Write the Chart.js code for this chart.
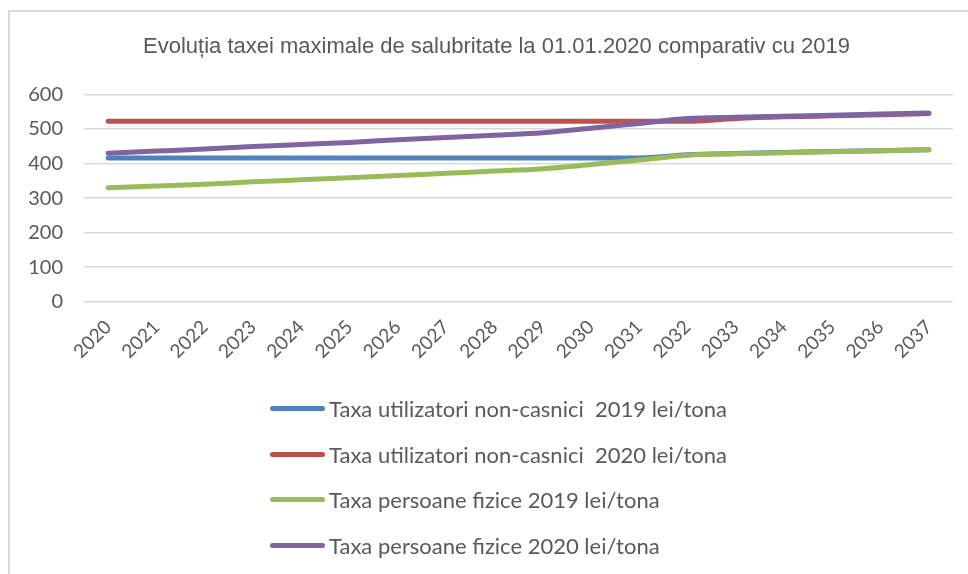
<!DOCTYPE html>
<html>
<head>
<meta charset="utf-8">
<script src="https://cdn.jsdelivr.net/npm/chart.js@4"></script>
<style>
  html, body { margin: 0; padding: 0; background: #fff; }
  #wrap { position: relative; width: 968px; height: 574px; overflow: hidden; }
  #frame { position: absolute; left: 8px; top: 10px; width: 1000px; height: 600px;
           border-left: 2px solid #d9d9d9; border-top: 2px solid #d9d9d9; }
  #chart { position: absolute; left: 0; top: 0; }
  #legend { position: absolute; left: 270px; top: 386px; font-family: Lato, "Open Sans", sans-serif;
            font-size: 22px; color: #595959; }
  .row { height: 45.5px; display: flex; align-items: center; white-space: pre; }
  .swatch { width: 55px; height: 5px; border-radius: 3px; margin-right: 4px; }
</style>
</head>
<body>
<div id="wrap">
  <div id="frame"></div>
  <canvas id="chart" width="968" height="574"></canvas>
  <div id="legend"></div>
</div>
<script>
const years = ['2020','2021','2022','2023','2024','2025','2026','2027','2028','2029','2030','2031','2032','2033','2034','2035','2036','2037'];
const nonCasnici2019 = [416,416,416,416,416,416,416,416,416,416,416,416,425,429,432,435,437,440];
const nonCasnici2020 = [522,522,522,522,522,522,522,522,522,522,522,522,522,530,535,538,541,545];
const fizice2019 = [330,335,340,347,353,359,365,372,378,385,397,410,424,428,431,434,437,440];
const fizice2020 = [430,436,442,449,455,461,469,475,482,489,502,516,530,534,537,540,543,546];
const seriesNames = [
  'Taxa utilizatori non-casnici  2019 lei/tona',
  'Taxa utilizatori non-casnici  2020 lei/tona',
  'Taxa persoane fizice 2019 lei/tona',
  'Taxa persoane fizice 2020 lei/tona'
];
const colors = ['#4F81BD', '#C0504D', '#9BBB59', '#8064A2'];
const yTicks = [0, 100, 200, 300, 400, 500, 600];

const values = [nonCasnici2019, nonCasnici2020, fizice2019, fizice2020];
const drawOrder = [3, 2, 1, 0];

// nudge the title a bit right, it is centred on the whole frame in the original
const titleShift = {
  id: 'titleShift',
  afterLayout(chart) {
    chart.titleBlock.left += 8;
    chart.titleBlock.right += 8;
  }
};

const ctx = document.getElementById('chart');
const myChart = new Chart(ctx, {
  type: 'line',
  data: {
    labels: years,
    datasets: values.map((v, i) => ({
      label: seriesNames[i],
      data: v,
      borderColor: colors[i],
      backgroundColor: colors[i],
      borderWidth: 5,
      pointRadius: 0,
      borderCapStyle: 'round',
      cubicInterpolationMode: 'monotone',
      order: drawOrder[i]
    }))
  },
  options: {
    responsive: false,
    animation: false,
    layout: { padding: { left: 24, right: 15, top: 0, bottom: 205 } },
    plugins: {
      legend: { display: false },
      tooltip: { enabled: false },
      title: {
        display: true,
        text: 'Evoluția taxei maximale de salubritate la 01.01.2020 comparativ cu 2019',
        color: '#595959',
        font: { family: '"Liberation Sans", Arial, sans-serif', size: 22, weight: 'normal' },
        padding: { top: 34, bottom: 34 }
      }
    },
    scales: {
      x: {
        offset: true,
        grid: { display: false },
        border: { display: false },
        ticks: {
          color: '#595959',
          font: { family: 'Lato, sans-serif', size: 19 },
          minRotation: 45, maxRotation: 45,
          padding: 6
        }
      },
      y: {
        min: 0, max: 600,
        afterBuildTicks: axis => { axis.ticks = yTicks.map(v => ({ value: v })); },
        afterFit: axis => { axis.width = 60; },
        grid: { color: '#d9d9d9', lineWidth: 1.5, drawTicks: false },
        border: { display: false },
        ticks: {
          color: '#595959',
          font: { family: 'Lato, sans-serif', size: 20 },
          padding: 21
        }
      }
    }
  },
  plugins: [titleShift]
});

const legend = document.getElementById('legend');
seriesNames.forEach((name, i) => {
  const row = document.createElement('div');
  row.className = 'row';
  const sw = document.createElement('span');
  sw.className = 'swatch';
  sw.style.background = colors[i];
  row.appendChild(sw);
  row.appendChild(document.createTextNode(name));
  legend.appendChild(row);
});
</script>
</body>
</html>
